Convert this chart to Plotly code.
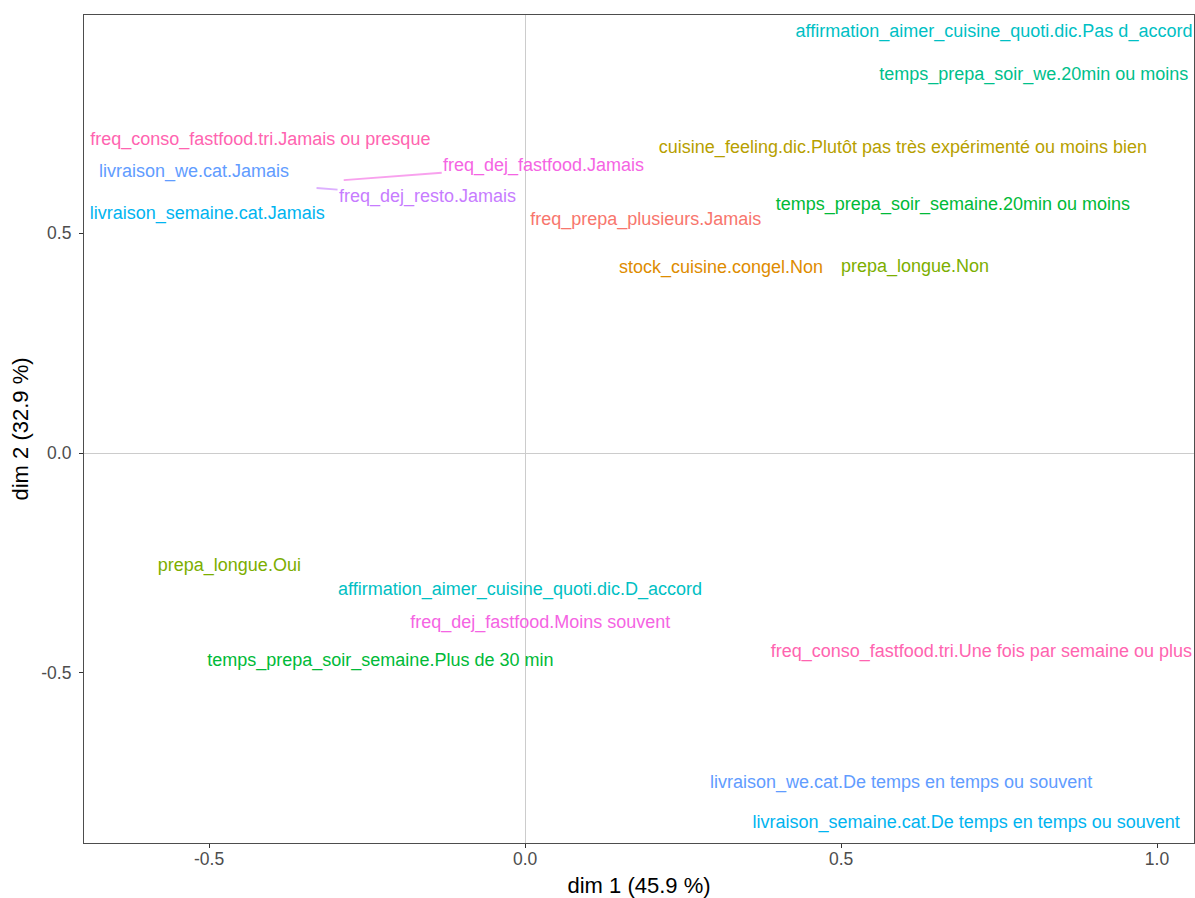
import plotly.graph_objects as go

# Category coordinates (dim 1, dim 2)
labels = [
    "affirmation_aimer_cuisine_quoti.dic.Pas d_accord",
    "temps_prepa_soir_we.20min ou moins",
    "freq_conso_fastfood.tri.Jamais ou presque",
    "livraison_we.cat.Jamais",
    "livraison_semaine.cat.Jamais",
    "cuisine_feeling.dic.Plutôt pas très expérimenté ou moins bien",
    "temps_prepa_soir_semaine.20min ou moins",
    "freq_prepa_plusieurs.Jamais",
    "stock_cuisine.congel.Non",
    "prepa_longue.Non",
    "prepa_longue.Oui",
    "affirmation_aimer_cuisine_quoti.dic.D_accord",
    "freq_dej_fastfood.Moins souvent",
    "temps_prepa_soir_semaine.Plus de 30 min",
    "freq_conso_fastfood.tri.Une fois par semaine ou plus",
    "livraison_we.cat.De temps en temps ou souvent",
    "livraison_semaine.cat.De temps en temps ou souvent",
]
dim1 = [0.742, 0.805, -0.419, -0.524, -0.503, 0.598, 0.677, 0.191, 0.310, 0.617,
        -0.468, -0.008, 0.024, -0.229, 0.722, 0.595, 0.698]
dim2 = [0.956, 0.860, 0.712, 0.639, 0.542, 0.694, 0.564, 0.528, 0.419, 0.423,
        -0.257, -0.312, -0.387, -0.473, -0.453, -0.751, -0.842]
variables = [
    "affirmation_aimer_cuisine_quoti.dic", "temps_prepa_soir_we", "freq_conso_fastfood.tri",
    "livraison_we.cat", "livraison_semaine.cat", "cuisine_feeling.dic",
    "temps_prepa_soir_semaine", "freq_prepa_plusieurs", "stock_cuisine.congel",
    "prepa_longue", "prepa_longue", "affirmation_aimer_cuisine_quoti.dic",
    "freq_dej_fastfood", "temps_prepa_soir_semaine", "freq_conso_fastfood.tri",
    "livraison_we.cat", "livraison_semaine.cat",
]

# Repelled labels (point + label drawn with a segment)
rep_labels = ["freq_dej_fastfood.Jamais", "freq_dej_resto.Jamais"]
rep_dim1 = [-0.287, -0.330]
rep_dim2 = [0.621, 0.603]
rep_variables = ["freq_dej_fastfood", "freq_dej_resto"]
rep_offset_px = [(200, -15), (111, 8)]

tick_vals = [-0.5, 0.0, 0.5, 1.0]
tick_text = ["-0.5", "0.0", "0.5", "1.0"]

var_order = [
    "freq_prepa_plusieurs", "stock_cuisine.congel", "cuisine_feeling.dic", "prepa_longue",
    "temps_prepa_soir_semaine", "temps_prepa_soir_we", "affirmation_aimer_cuisine_quoti.dic",
    "livraison_semaine.cat", "livraison_we.cat", "freq_dej_resto", "freq_dej_fastfood",
    "freq_conso_fastfood.tri",
]
palette = ["#F8766D", "#DE8C00", "#B79F00", "#7CAE00", "#00BA38", "#00C08B",
           "#00BFC4", "#00B4F0", "#619CFF", "#C77CFF", "#F564E3", "#FF64B0"]
colmap = dict(zip(var_order, palette))


def faded(hex_color, alpha=0.6):
    h = hex_color.lstrip("#")
    r, g, b = int(h[0:2], 16), int(h[2:4], 16), int(h[4:6], 16)
    return f"rgba({r},{g},{b},{alpha})"


FONT = "Liberation Sans, Arial, Helvetica, sans-serif"

fig = go.Figure()
fig.add_trace(go.Scatter(
    x=dim1, y=dim2, text=labels, mode="text",
    textposition="middle center",
    textfont=dict(family=FONT, size=18, color=[colmap[v] for v in variables]),
    showlegend=False, hoverinfo="text", cliponaxis=False,
))

for lab, x, y, v, (ax, ay) in zip(rep_labels, rep_dim1, rep_dim2, rep_variables, rep_offset_px):
    fig.add_annotation(
        x=x, y=y, text=lab, showarrow=True, arrowhead=0, arrowwidth=1.8,
        arrowcolor=faded(colmap[v]), ax=ax, ay=ay, standoff=0,
        font=dict(family=FONT, size=18, color=colmap[v]),
    )

axis_common = dict(
    showgrid=False, zeroline=True, zerolinecolor="#CCCCCC", zerolinewidth=1,
    showline=True, mirror=True, linecolor="#4D4D4D", linewidth=1.2,
    ticks="outside", ticklen=4, tickcolor="#333333", tickwidth=1,
    tickfont=dict(family=FONT, size=17.5, color="#4D4D4D"),
    tickvals=tick_vals, ticktext=tick_text, automargin=False,
)

fig.update_layout(
    width=1195, height=898,
    margin=dict(l=84, r=1, t=15, b=55),
    paper_bgcolor="white", plot_bgcolor="white",
    xaxis=dict(range=[-0.698, 1.0585], ticklabelstandoff=-4,
               title=dict(text="dim 1 (45.9 %)",
                          font=dict(family=FONT, size=22, color="black"), standoff=10),
               **axis_common),
    yaxis=dict(range=[-0.887, 0.9966], ticklabelstandoff=4,
               title=dict(text="dim 2 (32.9 %)",
                          font=dict(family=FONT, size=22, color="black"), standoff=6),
               **axis_common),
)

# remove the default page margin so the 1195x898 figure fills the window exactly
fig.write_html(
    "out.html",
    config={"displayModeBar": False},
    post_script="document.body.style.margin='0';document.body.style.overflow='hidden';",
)
